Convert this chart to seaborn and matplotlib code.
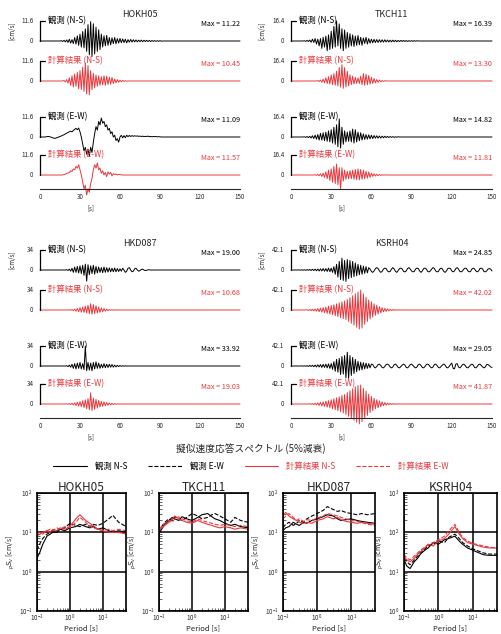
import numpy as np
import matplotlib
matplotlib.use("Agg")
import matplotlib.pyplot as plt
from matplotlib.lines import Line2D
from matplotlib.ticker import MultipleLocator, LogLocator, NullFormatter
import seaborn as sns

sns.set_style("white")
plt.rcParams['font.family'] = ['Noto Sans CJK JP', 'DejaVu Sans']
plt.rcParams['mathtext.fontset'] = 'dejavusans'

RED = '#e8383d'

# ---- waveforms, velocity [cm/s], one value per second from t = 0 ----
hokh05_ns_obs = [0] * 15 + [0, 0.2, -0.3, 0.4, -0.5, 0.6, -0.8, 1.0, -1.2, 0.8, -1.5, 2.0, -1.8,
    3.0, -2.5, 4.0, -3.5, 5.5, -4.0, 7.0, -6.0, 9.5, -8.0, 11.22, -9.0, 10.0, -7.5, 8.0, -6.0, 6.5, -5.0,
    4.0, -3.5, 3.0, -2.8, 3.2, -2.5, 2.0, -2.2, 1.8, -1.5, 2.0, -1.6, 1.4, -1.2, 1.5, -1.0, 1.2, -0.9,
    1.0, -1.1, 0.8, -0.7, 0.9, -0.6, 0.7, -0.5, 0.6, -0.5, 0.5, -0.4, 0.5, -0.4, 0.4, -0.3, 0.4, -0.3,
    0.3, -0.3, 0.3, -0.2, 0.2, -0.2, 0.2, -0.2, 0.2, -0.1]
hokh05_ns_cal = [0] * 18 + [0.3, -0.5, 0.8, -1.2, 1.8, -2.5, 3, -3.5, 4, -3, 5, -4.5, 6,
    -5, 8, -6, 10.45, -7.5, 9, -8, 6, -5, 4.5, -4, 3.5, -3, 3, -2.5,
    2.5, -2.2, 3, -2.5, 2.8, -2, 2.2, -1.8, 2, -1.5, 1.2, -1, 0.8, -0.7, 0.5, -0.4, 0.3, -0.2, 0.2, -0.1]
hokh05_ew_obs = [0, 0, 0, 0, 0, 0.2, 0.3, 0.2, 0, -0.3, -0.6, -0.8, -0.6, -0.3, 0, 0.3, 0.6, 1.0, 1.3, 1.8, 2.2,
    2.6, 3.0, 3.4, 3.0, 3.8, 4.4, 5.0, 4.2, 5.2, 3.0,
    0, -4, -8, -6, -10, -7, -11.09, -6, -9, -3,
    2, 6, 4, 9, 7, 11, 8, 9, 6, 7,
    4, 5, 2, 3, 0, 1, -2, -1, -3, 0,
    1, -0.5, 0.8, -0.4, 1.0, 0.2, 0.9, 0.3, 0.8, 0.4, 0.7, 0.5, 0.6, 0.4, 0.5,
    0.3, 0.5, 0.2, 0.4, 0.3, 0.5, 0.2, 0.3, 0.1, 0.3, 0.2, 0.3, 0.1, 0.2, 0.1]
hokh05_ew_cal = [0] * 18 + [0.3, 0.5, 0.8, 1.2, 1.5, 2.5, 2.0, 3.5, 3.0, 5.0, 4.0, 6.0, 3.0,
    0, -4, -8, -6, -11.57, -8, -10, -5, -2, 3, 6, 4, 7, 3, 4,
    1, 2.5, 0, 1.5, -1, 1.8, 0.5, 1.5, -0.5, 0.8, 0.3, 0.5, 0, 0.3, 0.2, 0.1, 0]

tkch11_ns_obs = [0] * 10 + [0.2, -0.3, 0.5, -0.4, 0.8, -1, 1.5, -1.2, 2, -2.5, 1.5, -4, 2, -6, 3, -5,
    4, -8, 5, -7, 8, -6, 12, -5, 16.39, -4, 14, -6, 10, -8, 9,
    -6, 7, -5, 6, -4, 5, -4.5, 4, -3.5, 4.5, -3, 3, -3.5, 2.5, -2, 3, -2.5, 2, -1.8, 1.5,
    -1.5, 1.4, -1.3, 1.2, -1.2, 1.1, -1, 1, -0.9, 1, -0.8, 0.8, -0.8, 0.7, -0.7, 0.7, -0.6, 0.6,
    -0.6, 0.5, -0.5, 0.5, -0.4, 0.5, -0.4, 0.4, -0.4, 0.3, -0.3, 0.3, -0.3, 0.3, -0.2, 0.2]
tkch11_ns_cal = [0] * 20 + [0.3, -0.4, 0.8, -1, 1.5, -1.5, 2.5, -2, 3.5, -2.5, 5, -3, 6, -3.5, 8, -4,
    11, -5, 13.3, -6, 11, -5, 8, -4, 5, -3, 4, -2.5, 3, -2, 2.5,
    -2, 4, -3, 6, -3.5, 5.5, -3, 4.5, -2.5, 3, -2, 2, -1.5, 1.2, -1, 0.8, -0.6, 0.4, -0.3, 0.2]
tkch11_ew_obs = [0] * 10 + [0.2, -0.3, 0.4, -0.5, 0.6, -0.8, 1, -1.2, 1.5, -1.8, 2, -2.5, 3, -2.5, 3.5, -3,
    4, -3.5, 5, -4, 6, -5, 8, -6, 10, -8, 14.82, -9, 8, -6, 5,
    -4, 4, -3.5, 5, -4, 6.5, -5, 6, -4, 4, -3, 3.5, -2.5, 2.5, -2,
    2, -1.8, 1.8, -1.5, 1.5, -1.3, 1.2, -1, 1, -0.9, 0.8, -0.8, 0.7, -0.6, 0.6, -0.5, 0.5, -0.4,
    0.4, -0.3, 0.3, -0.3, 0.2, -0.2, 0.2]
tkch11_ew_cal = [0] * 18 + [0.2, -0.3, 0.5, -0.6, 1, -1.2, 1.5, -2, 2.5, -3, 4, -4.5, 5,
    -6, 7, -7, 9, -8, 6, -11.81, 6, -5, 4, -3.5, 3, -3, 3.5, -3,
    4, -3.5, 4.5, -4, 5, -4, 4.5, -3.5, 4, -3, 3, -2.5, 2.5, -2, 1.5, -1.2, 1, -0.8, 0.6, -0.5,
    0.4, -0.3, 0.2, -0.1, 0.1]

hkd087_ns_obs = [0] * 20 + [0.5, -0.8, 1.5, -2, 3, -4, 5, -4, 6, -5, 7, -6, 8,
    -9, 10, -19, 9, -8, 7, -6, 8, -7, 6, -5, 5, -4,
    4, -4.5, 5, -4, 4, -3.5, 3.5, -3, 3, -3, 3.5, -3, 2.5, -2.5, 2,
    -2, 3, 0, -4, -2, 3, 4, 0, -3, -2, 2, 3, 0, -2, -1, 1, 1.5, 0, -1, -0.5, 0.5, 0.3, 0, -0.2, 0]
hkd087_ns_cal = [0] * 22 + [0.3, -0.4, 0.8, -1, 1.5, -2, 2.5, -3, 4, -3.5, 5, -4, 6.5, -5,
    8, -6, 10.68, -7, 9, -6, 7, -5, 5, -4, 3.5, -3, 2.5, -2, 1.5,
    -1, 0.8, -0.5, 0.4, -0.3, 0.2, -0.1, 0.1]
hkd087_ew_obs = [0] * 20 + [0.5, -1, 1.5, -2, 3, -4, 4, -5, 5, -4, 6, -5, 4, -6,
    33.92, -8, 6, -7, 5, -8, 6, -5, 7, -4, 5, -4, 3,
    -3, 4, -3, 3, -2.5, 3, -2, 2.5, -2, 1.5, -1.5, 1.2, -1, 0.8, -0.6, 0.5, -0.4, 0.3, -0.2]
hkd087_ew_cal = [0] * 20 + [0.3, -0.4, 0.6, -0.8, 1.2, -1.5, 2, -2.5, 3, -3.5, 4, -4.5, 5.5, -6, 7, -8,
    9, -10, 19.03, -11, 10, -9, 8, -7, 6, -5, 4.5, -4, 3.5, -3, 2.5,
    -2, 1.8, -1.5, 1.2, -1, 0.8, -0.5, 0.3, -0.2, 0.1]

ksrh04_ns_obs = [0] * 6 + [0.3, -0.4, 0.5, -0.5, 0.6, -0.8, 1, -0.8, 1.2, -1, 1.5, -1.2, 1.8, -1.5, 2, -2,
    2.5, -2, 3, -2.5, 3, -3, 4, -3.5, 4,
    -5, 7, -9, 12, -15, 18, -20, 24.85, -22, 20, -24, 22, -18, 20, -16, 18, -14, 15, -12, 12,
    -10, 10, -9, 8, -7, 7, -6,
    5, 2, -3, -5, -2, 3, 5, 3, -2, -5, -3, 2, 4, 3, -2, -4, -3, 2, 5, 2, -3, -5, -1, 3, 4, 2, -3, -4,
    -2, 3, 5, 2, -2, -4, -3, 2, 4, 3, -2, -5, -2, 3, 4, 2, -3, -4, -2, 2, 5, 3, -2, -4, -3, 2, 4, 2,
    -3, -5, -2, 3, 4, 3, -2, -4, -2, 3, 5, 2, -3, -4, -2, 2, 4, 3, -2, -4, -3, 2, 4, 2, -2, -4, -2,
    3, 4, 2, -3, -4, -2, 2, 3, 2, -2]
ksrh04_ns_cal = [0] * 12 + [0.5, -0.8, 1, -1.2, 1.5, -1.8, 2, -2.5, 3, -3.5, 4, -4.5, 5, -5.5, 6, -7, 8,
    -8.5, 9.5,
    -10, 11, -12, 13, -14, 15, -16, 17, -18, 19, -20, 22, -24, 26, -28, 30, -32, 34, -36, 38,
    -40, 42.02, -38, 34, -30, 27, -24, 21, -19, 17,
    -15, 13, -11, 10, -8.5, 7, -6, 5, -4, 3.5, -3, 2.5, -2, 1.5, -1.2, 1, -0.8, 0.6, -0.4, 0.3]
ksrh04_ew_obs = [0] * 8 + [0.3, -0.4, 0.5, -0.6, 0.8, -1, 1.2, -1, 1.5, -1.5, 2, -2, 2.5, -2, 3, -3,
    3.5, -3, 4, -4, 4.5, -5, 5,
    -7, 9, -11, 14, -13, 16, -18, 20, -17, 22, -25, 29.05, -26, 22, -20, 18, -16, 14, -12, 10,
    -9, 8, -8, 7, -6, 6, -5, 5, -4, 4,
    3, -2, -4, -1, 3, 4, 1, -3, -4, -1, 3, 4, 2, -2, -4, -2, 3, 4, 1, -3, -4, -1, 2, 4, 2, -3,
    -4, -1, 3, 4, 1, -2, -4, -2, 3, 4, 1, -3, -4, -1, 3, 4, 2, -2, -4, -2, 3, 4, 1, -3, -4, -1,
    2, 4, 2, -3, -4, -1, 3, 6, -5, -6, 4, 5, -2, -4, -1, 3, 4, 1, -3, -4, -1, 2, 4, 2, -3, -4,
    -1, 3, 4, 1, -2, -4, -2, 3, 3, 1, -2, -3]
ksrh04_ew_cal = [0] * 14 + [0.5, -0.7, 1, -1.3, 1.6, -2, 2.5, -3, 3.5, -4, 4.5, -5, 6, -6.5, 7, -8, 9,
    -10, 11, -12, 13, -14, 15, -16, 18, -19, 20, -22, 24, -26, 28, -30, 32, -34, 36, -38, 39,
    -41.87, 40, -37, 33, -30, 27, -24, 21, -18, 16,
    -14, 12, -10, 9, -8, 6.5, -5.5, 4.5, -3.5, 3, -2.5, 2, -1.5, 1.2, -1, 0.8, -0.6, 0.4, -0.3, 0.2]

stations = ['HOKH05', 'TKCH11', 'HKD087', 'KSRH04']
wave_scales = [11.6, 16.4, 34, 42.1]
wave_scale_labels = ['11.6', '16.4', '34', '42.1']
wave_maxes = [['11.22', '10.45', '11.09', '11.57'],
              ['16.39', '13.30', '14.82', '11.81'],
              ['19.00', '10.68', '33.92', '19.03'],
              ['24.85', '42.02', '29.05', '41.87']]
wave_traces = [[hokh05_ns_obs, hokh05_ns_cal, hokh05_ew_obs, hokh05_ew_cal],
               [tkch11_ns_obs, tkch11_ns_cal, tkch11_ew_obs, tkch11_ew_cal],
               [hkd087_ns_obs, hkd087_ns_cal, hkd087_ew_obs, hkd087_ew_cal],
               [ksrh04_ns_obs, ksrh04_ns_cal, ksrh04_ew_obs, ksrh04_ew_cal]]
trace_names = ['観測 (N-S)', '計算結果 (N-S)', '観測 (E-W)', '計算結果 (E-W)']
time_ticks = [0, 30, 60, 90, 120, 150]

# ---- pseudo velocity response spectra [cm/s] ----
periods = [0.1, 0.12, 0.15, 0.2, 0.25, 0.3, 0.4, 0.5, 0.7, 1, 1.5, 2, 3, 4, 5, 7, 10, 15, 20, 30, 50]
psv_hokh05 = [[2.2, 3, 5, 8, 9, 10, 10, 12, 11, 13, 14, 16, 14, 13, 14, 12, 13, 11, 10, 11, 10],
              [3.5, 5, 7, 9, 10, 11, 11, 12, 13, 17, 15, 14, 16, 14, 16, 15, 17, 22, 27, 18, 14],
              [8, 9, 10, 11, 10, 12, 11, 13, 12, 14, 22, 28, 20, 17, 15, 12, 11, 10, 10, 10, 9],
              [9, 10, 9, 11, 12, 11, 13, 12, 14, 13, 18, 24, 18, 14, 13, 12, 11, 12, 11, 12, 11]]
psv_tkch11 = [[9, 12, 16, 20, 24, 22, 20, 25, 22, 20, 24, 28, 30, 25, 22, 20, 17, 15, 16, 14, 13],
              [10, 14, 18, 22, 20, 25, 22, 20, 24, 30, 26, 22, 24, 28, 30, 26, 22, 18, 24, 20, 18],
              [11, 13, 15, 18, 22, 26, 22, 20, 18, 17, 20, 18, 16, 15, 14, 13, 14, 13, 12, 13, 12],
              [12, 14, 17, 20, 18, 22, 25, 22, 20, 18, 22, 20, 18, 17, 16, 15, 16, 15, 14, 15, 14]]
psv_hkd087 = [[11, 13, 14, 18, 16, 15, 18, 17, 20, 22, 25, 28, 26, 22, 20, 21, 22, 20, 19, 18, 17],
              [13, 16, 18, 15, 17, 20, 18, 22, 26, 30, 36, 45, 38, 34, 36, 32, 30, 28, 30, 28, 30],
              [28, 32, 26, 22, 20, 18, 17, 18, 17, 20, 22, 25, 22, 24, 21, 19, 18, 17, 18, 17, 16],
              [22, 26, 30, 24, 20, 22, 19, 21, 20, 23, 26, 30, 28, 26, 24, 22, 20, 19, 18, 16, 15]]
psv_ksrh04 = [[20, 14, 12, 18, 22, 28, 35, 40, 55, 50, 65, 70, 80, 60, 50, 40, 35, 30, 27, 26, 26],
              [22, 18, 15, 20, 25, 30, 38, 45, 50, 60, 55, 75, 90, 70, 55, 45, 38, 33, 30, 28, 28],
              [25, 20, 18, 22, 28, 32, 40, 50, 45, 60, 70, 90, 140, 90, 70, 55, 50, 45, 42, 40, 40],
              [28, 22, 20, 25, 30, 35, 42, 48, 55, 65, 80, 110, 160, 100, 75, 60, 52, 48, 45, 42, 40]]
psv_all = [psv_hokh05, psv_tkch11, psv_hkd087, psv_ksrh04]
psv_ylims = [(0.1, 100), (0.1, 100), (0.1, 100), (1, 1000)]
legend_names = ['観測 N-S', '観測 E-W', '計算結果 N-S', '計算結果 E-W']

W, H = 502, 634
fig = plt.figure(figsize=(W / 100, H / 100), dpi=100)


def rect(x0, y0, x1, y1):
    return [x0 / W, 1 - y1 / H, (x1 - x0) / W, (y1 - y0) / H]


offsets = [0, -2.0, -4.8, -6.7]
colors = ['black', RED, 'black', RED]
t = np.arange(151)
block_pos = [(40, 240, 41), (291, 492, 41), (40, 240, 270), (291, 492, 270)]

for k, (x0, x1, b1) in enumerate(block_pos):
    ax = fig.add_axes(rect(x0, b1 - 31, x1, b1 + 148))
    S = wave_scales[k]
    for j in range(4):
        v = np.zeros(151)
        vals = wave_traces[k][j][:151]
        v[:len(vals)] = vals
        off = offsets[j]
        sns.lineplot(x=t, y=v / S + off, ax=ax, color=colors[j], lw=0.7, clip_on=False)
        ax.plot([4, 0, 0], [off + 1, off + 1, off], color='black', lw=0.9, clip_on=False)
        ax.text(-5, off + 1, wave_scale_labels[k], ha='right', va='center', fontsize=4.5, clip_on=False)
        ax.text(-5, off, '0', ha='right', va='center', fontsize=4.5, clip_on=False)
        ax.text(6, off + 1, trace_names[j], ha='left', va='center', fontsize=6,
                color=colors[j], clip_on=False)
        ax.text(150, off + 0.85, 'Max = ' + wave_maxes[k][j], ha='right', va='center',
                fontsize=5.2, color=colors[j], clip_on=False)
    ax.text(-21, 0.5, '[cm/s]', rotation=90, ha='center', va='center', fontsize=4.5, clip_on=False)
    ax.text(75, 1.3, stations[k], ha='center', va='center', fontsize=6.5)
    ax.set_xlim(0, 150)
    ax.set_ylim(-7.4, 1.55)
    for s in ['top', 'right', 'left']:
        ax.spines[s].set_visible(False)
    ax.spines['bottom'].set_linewidth(0.8)
    ax.set_yticks([])
    ax.set_xticks(time_ticks)
    ax.xaxis.set_minor_locator(MultipleLocator(5))
    ax.tick_params(axis='x', which='major', direction='in', length=4.5, width=0.8,
                   labelsize=4.5, pad=3)
    ax.tick_params(axis='x', which='minor', direction='in', length=2.5, width=0.6)
    ax.set_xlabel('')
    ax.set_ylabel('')
    ax.text(38, -8.35, '[s]', ha='center', va='center', fontsize=4.5, clip_on=False)

fig.text(0.5, 1 - 449 / H, '擬似速度応答スペクトル (5%減衰)', ha='center', va='center', fontsize=7)

spec_pos = [(37, 126), (159, 248), (283, 375), (404, 497)]
styles = [('black', '-'), ('black', '--'), (RED, '-'), (RED, '--')]
for k, (x0, x1) in enumerate(spec_pos):
    ax = fig.add_axes(rect(x0, 493, x1, 611))
    ax.set_xscale('log')
    ax.set_yscale('log')
    for j in range(4):
        c, ls = styles[j]
        sns.lineplot(x=periods, y=psv_all[k][j], ax=ax, color=c, linestyle=ls, lw=0.8,
                     label=legend_names[j], legend=False)
    ax.set_xlim(0.1, 50)
    ax.set_ylim(*psv_ylims[k])
    ax.grid(True, which='major', color='black', lw=1.1)
    for s in ax.spines.values():
        s.set_linewidth(1.2)
        s.set_color('black')
    ax.xaxis.set_major_locator(LogLocator(base=10, numticks=10))
    ax.yaxis.set_major_locator(LogLocator(base=10, numticks=10))
    ax.xaxis.set_minor_locator(LogLocator(base=10, subs=np.arange(2, 10), numticks=10))
    ax.yaxis.set_minor_locator(LogLocator(base=10, subs=np.arange(2, 10), numticks=10))
    ax.xaxis.set_minor_formatter(NullFormatter())
    ax.yaxis.set_minor_formatter(NullFormatter())
    ax.tick_params(axis='x', which='major', direction='in', length=0, labelsize=4.5, pad=1.5)
    ax.tick_params(axis='y', which='major', direction='in', length=0, labelsize=4.5, pad=3.5)
    ax.tick_params(which='minor', direction='in', length=2, width=0.5, left=True, bottom=True)
    ax.set_title(stations[k], fontsize=8.5, pad=1.5)
    ax.set_xlabel('Period [s]', fontsize=5.5, labelpad=0)
    ax.set_ylabel(r'$_pS_v$ [cm/s]', fontsize=5, labelpad=1)

handles = [Line2D([], [], color=c, linestyle=ls, lw=0.8) for c, ls in styles]
leg = fig.legend(handles, legend_names, loc='center', bbox_to_anchor=(0.5, 1 - 466 / H), ncol=4,
                 frameon=False, fontsize=6, handlelength=4, columnspacing=2.5, handletextpad=1)
for txt, (c, ls) in zip(leg.get_texts(), styles):
    txt.set_color(c)

fig.savefig('out.png', dpi=100)
